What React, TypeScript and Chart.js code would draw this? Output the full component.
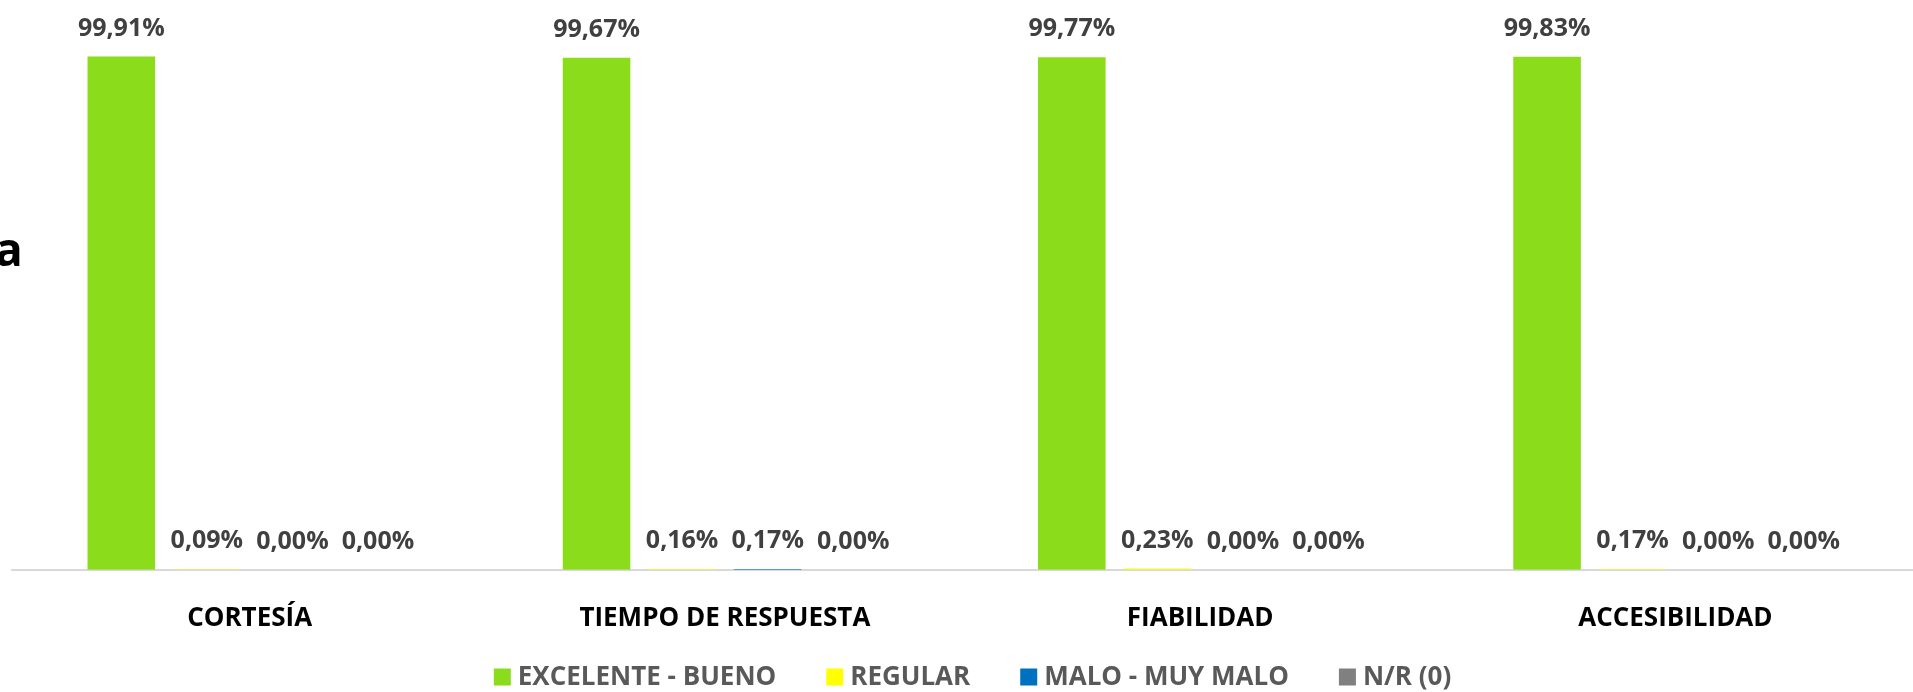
import React, { useEffect, useRef } from "react";
import { Chart, registerables } from "chart.js";

Chart.register(...registerables);

const categories = ["CORTESÍA", "TIEMPO DE RESPUESTA", "FIABILIDAD", "ACCESIBILIDAD"];
const seriesNames = ["EXCELENTE - BUENO", "REGULAR", "MALO - MUY MALO", "N/R (0)"];
const excelenteBueno = [99.91, 99.67, 99.77, 99.83];
const regular = [0.09, 0.16, 0.23, 0.17];
const maloMuyMalo = [0.0, 0.17, 0.0, 0.0];
const noResponde = [0.0, 0.0, 0.0, 0.0];
const seriesColors = ["#8BDC1B", "#FFFF00", "#0070C0", "#808080"];

const FONT = "'Open Sans', sans-serif";

const valueLabels = {
  id: "valueLabels",
  afterDatasetsDraw(chart: any) {
    const ctx = chart.ctx;
    ctx.save();
    ctx.font = `bold 25px ${FONT}`;
    ctx.fillStyle = "#404040";
    ctx.textAlign = "center";
    ctx.textBaseline = "middle";
    chart.data.datasets.forEach((ds: any, i: number) => {
      const meta = chart.getDatasetMeta(i);
      meta.data.forEach((el: any, j: number) => {
        const v = ds.data[j] as number;
        const txt = v.toFixed(2).replace(".", ",") + "%";
        ctx.fillText(txt, el.x, el.y - 28);
      });
    });
    ctx.restore();
  },
};

const bottomLegend = {
  id: "bottomLegend",
  afterDraw(chart: any) {
    const ctx = chart.ctx;
    const box = 17;
    const textGap = 24;
    const itemGap = 50;
    const cy = 677;
    ctx.save();
    ctx.font = `bold 26px ${FONT}`;
    ctx.textBaseline = "middle";
    ctx.textAlign = "left";
    const items = chart.data.datasets.map((ds: any) => ({
      label: ds.label as string,
      color: ds.backgroundColor as string,
      w: textGap + ctx.measureText(ds.label).width,
    }));
    const total = items.reduce((s: number, it: any) => s + it.w, 0) + itemGap * (items.length - 1);
    let x = chart.width / 2 + 16 - total / 2;
    items.forEach((it: any) => {
      ctx.fillStyle = it.color;
      ctx.fillRect(x, cy - box / 2, box, box);
      ctx.fillStyle = "#595959";
      ctx.fillText(it.label, x + textGap, cy + 1);
      x += it.w + itemGap;
    });
    ctx.restore();
  },
};

export default function App() {
  const ref = useRef<HTMLCanvasElement>(null);
  useEffect(() => {
    document.body.style.margin = "0";
    const chart = new Chart(ref.current!, {
      type: "bar",
      data: {
        labels: categories,
        datasets: [excelenteBueno, regular, maloMuyMalo, noResponde].map((d, i) => ({
          label: seriesNames[i],
          data: d,
          backgroundColor: seriesColors[i],
          borderWidth: 0,
          categoryPercentage: 0.72,
          barPercentage: 0.79,
        })),
      },
      options: {
        responsive: false,
        animation: false,
        layout: { padding: { top: 56, left: 12, right: 0, bottom: 25 } },
        plugins: {
          tooltip: { enabled: false },
          legend: { display: false },
        },
        scales: {
          x: {
            grid: { display: false, drawTicks: false },
            border: { display: true, color: "#D9D9D9", width: 2 },
            ticks: {
              color: "#000000",
              padding: 33,
              font: { family: FONT, size: 26, weight: "bold" },
            },
          },
          y: {
            display: false,
            min: 0,
            max: 100,
          },
        },
      },
      plugins: [valueLabels, bottomLegend],
    });
    return () => chart.destroy();
  }, []);
  return (
    <div style={{ position: "relative", width: 1913, height: 692, overflow: "hidden", background: "#fff" }}>
      <span
        style={{
          position: "absolute",
          left: -5,
          top: 225,
          fontFamily: FONT,
          fontWeight: "bold",
          fontSize: 46,
          color: "#000",
          lineHeight: 1,
        }}
      >
        a
      </span>
      <canvas ref={ref} width={1913} height={692} style={{ display: "block" }} />
    </div>
  );
}
